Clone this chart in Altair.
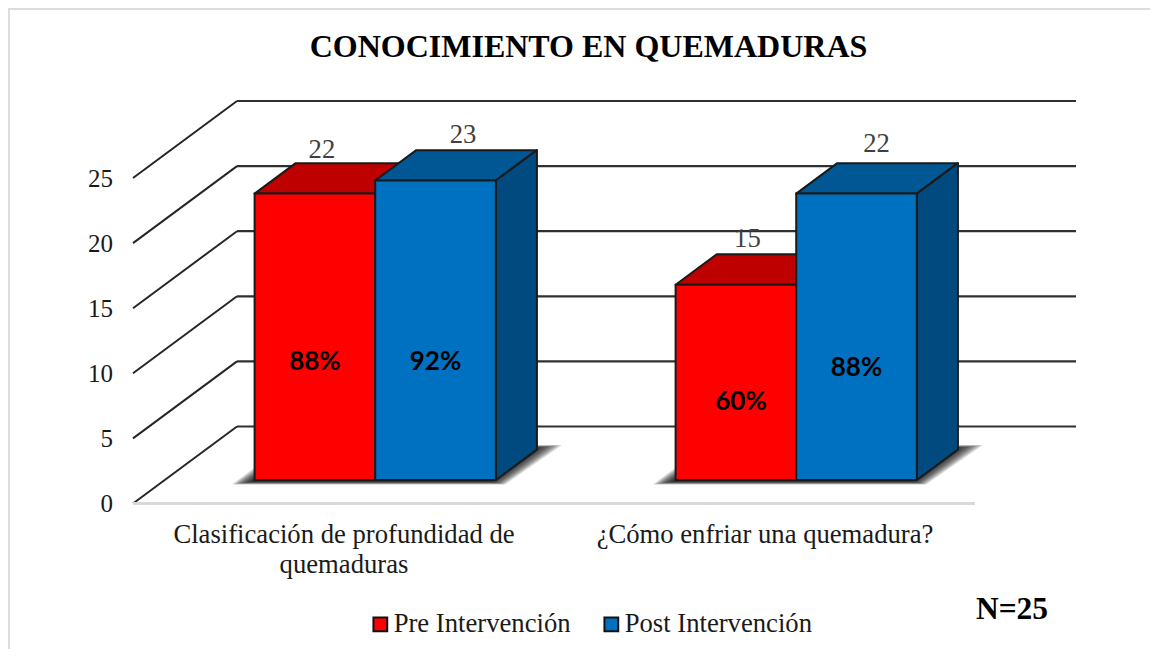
import altair as alt
import pandas as pd

categories = ["Clasificación de profundidad de quemaduras", "¿Cómo enfriar una quemadura?"]
series = ["Pre Intervención", "Post Intervención"]
pre_values = [22, 15]
post_values = [23, 22]
pre_pct = ["88%", "60%"]
post_pct = ["92%", "88%"]
y_ticks = [0, 5, 10, 15, 20, 25]

SERIF = "Liberation Serif"
COL_FRONT = {"Pre Intervención": "#FF0000", "Post Intervención": "#0070C0"}
COL_TOP = {"Pre Intervención": "#BE0000", "Post Intervención": "#005793"}
COL_SIDE = {"Pre Intervención": "#8A0000", "Post Intervención": "#004A80"}
EDGE = "#1a1a1a"

# projection: a point at depth d (0 front .. 1 back wall)
PX_X, PX_Y = 421.0, 13.02
DX = 104 / PX_X      # slots per full depth
DY = 77 / PX_Y       # value units per full depth
D0, D1 = 0.305, 0.70
BAR_W = 0.2865
W, H = 943, 402
X_MAX, Y_MAX = W / PX_X, H / PX_Y
xs = alt.Scale(domain=[0, X_MAX], nice=False, zero=False)
ys = alt.Scale(domain=[0, Y_MAX], nice=False, zero=False)

x_axis = alt.Axis(
    values=[0.5, 1.5], domain=False, ticks=False, grid=False, title=None,
    labelFont=SERIF, labelFontSize=26.67, labelColor="#1a1a1a", labelPadding=31, labelLimit=500,
    labelLineHeight=30, labelBaseline="middle", labelAlign="center",
    labelExpr="datum.value < 1 ? ['Clasificación de profundidad de', 'quemaduras'] : ['¿Cómo enfriar una quemadura?']",
)
y_axis = alt.Axis(
    values=y_ticks, domain=False, ticks=False, grid=False, title=None,
    labelFont=SERIF, labelFontSize=25, labelColor="#1a1a1a", labelPadding=20.5,
)
X = lambda f: alt.X(f, type="quantitative", scale=xs, axis=x_axis)
Y = lambda f: alt.Y(f, type="quantitative", scale=ys, axis=y_axis, stack=None)

# ---------- bar geometry rows ----------
fronts, tops, sides, pcts, vals = [], [], [], [], []
label_nudge_x = [0.0166, 0.0653, 0.0274, 0.0475]
label_nudge_y = [3.38, 3.53, 3.53, 3.84]
pct_nudge_x = [0, 0, 0.012, 0]
pct_anchor = [9.08, 9.08, 6.0, 8.62]
i = 0
for c in range(2):
    centre = c + 0.5
    for s, vlist, plist, left in ((series[0], pre_values, pre_pct, centre - BAR_W),
                                  (series[1], post_values, post_pct, centre)):
        v = vlist[c]
        right = left + BAR_W
        fronts.append(dict(s=s, x=left + D0 * DX, x2=right + D0 * DX, y=D0 * DY, y2=v + D0 * DY))
        for d in (D0, D1):
            tops.append(dict(s=s, g=i, x=left + d * DX, x2=right + d * DX, y=v + d * DY))
            sides.append(dict(s=s, g=i, x=right + d * DX, y=d * DY, y2=v + d * DY))
        mid = left + BAR_W / 2 + D0 * DX
        vals.append(dict(x=mid + label_nudge_x[i], y=v + D0 * DY + label_nudge_y[i], t=str(v)))
        pcts.append(dict(x=mid + pct_nudge_x[i], y=pct_anchor[i] + D0 * DY, t=plist[c]))
        i += 1

def bar_layers(name):
    top = alt.Chart(pd.DataFrame([r for r in tops if r["s"] == name])).mark_area(
        orient="horizontal", fill=COL_TOP[name], stroke=EDGE, strokeWidth=2, strokeJoin="round"
    ).encode(y=Y("y:Q"), x=X("x:Q"), x2="x2:Q", detail="g:N")
    side = alt.Chart(pd.DataFrame([r for r in sides if r["s"] == name])).mark_area(
        orient="vertical", fill=COL_SIDE[name], stroke=EDGE, strokeWidth=2, strokeJoin="round"
    ).encode(x=X("x:Q"), y=Y("y:Q"), y2="y2:Q", detail="g:N")
    return [top, side]

front_all = pd.DataFrame(fronts)
def front_layer(name, legend):
    return alt.Chart(front_all[front_all.s == name]).mark_rect(
        stroke=EDGE, strokeWidth=2
    ).encode(
        x=X("x:Q"), x2="x2:Q", y=Y("y:Q"), y2="y2:Q",
        color=alt.Color(
            "s:N",
            scale=alt.Scale(domain=series, range=[COL_FRONT[s] for s in series]),
            legend=legend,
        ),
    )

legend = alt.Legend(
    title=None, orient="none", legendX=234, legendY=509, direction="horizontal",
    symbolType="square", symbolSize=190, symbolStrokeColor="#111111", symbolStrokeWidth=2,
    labelFont=SERIF, labelFontSize=26.67, labelColor="#1a1a1a", labelOffset=0, labelLimit=400,
    columnPadding=27, symbolOpacity=1,
)

# ---------- walls ----------
wall_back = pd.DataFrame([dict(t=t, x=0 + 1 * DX, x2=X_MAX, y=t + DY) for t in y_ticks])
wall_diag = pd.DataFrame([dict(t=t, x=d * DX, y=t + d * DY) for t in y_ticks for d in (0, 1)])
back_lines = alt.Chart(wall_back).mark_rule(color="#303030", strokeWidth=2.2).encode(
    x=X("x:Q"), x2="x2:Q", y=Y("y:Q"))
diag_lines = alt.Chart(wall_diag).mark_line(color="#262626", strokeWidth=2).encode(
    x=X("x:Q"), y=Y("y:Q"), detail="t:N")

floor = alt.Chart(pd.DataFrame({"x": [0], "x2": [2], "y": [0]})).mark_rule(
    color="#d9d9d9", strokeWidth=3
).encode(x=X("x:Q"), x2="x2:Q", y=Y("y:Q"))

# ---------- soft floor shadows: stacked translucent parallelograms ----------
shadow_rows = []
steps = 10
for c in range(2):
    left = c + 0.5 - BAR_W
    right = c + 0.5 + BAR_W
    for k in range(steps):
        inset = k / (steps - 1)
        shadow_rows.append(dict(g=f"{c}-{k}",
                                x=left + 0.0216 + 0.045 * inset, x2=right + 0.097 - 0.03 * inset,
                                y=1.46 + 0.22 * inset))
        shadow_rows.append(dict(g=f"{c}-{k}",
                                x=left + 0.1475 + 0.045 * inset, x2=right + 0.2325 - 0.06 * inset,
                                y=4.49 - 0.22 * inset))
shadows = alt.Chart(pd.DataFrame(shadow_rows)).mark_area(
    orient="horizontal", fill="#000000", opacity=0.15
).encode(y=Y("y:Q"), x=X("x:Q"), x2="x2:Q", detail="g:N")

# ---------- labels ----------
value_text = alt.Chart(pd.DataFrame(vals)).mark_text(
    font=SERIF, fontSize=26.67, color="#404040", baseline="middle", align="center"
).encode(x=X("x:Q"), y=Y("y:Q"), text="t:N")
pct_text = alt.Chart(pd.DataFrame(pcts)).mark_text(
    font="Lato", fontWeight="bold", fontSize=26, color="#000000", baseline="middle", align="center"
).encode(x=X("x:Q"), y=Y("y:Q"), text="t:N")
n_text = alt.Chart(pd.DataFrame({"t": ["N=25"]})).mark_text(
    font=SERIF, fontWeight="bold", fontSize=31.5, color="#000000", baseline="middle", align="center"
).encode(x=alt.value(879), y=alt.value(508), text="t:N")

# ---------- panel frame (top and left only) ----------
frame_top = alt.Chart(pd.DataFrame({"a": [0]})).mark_rule(color="#dddddd", strokeWidth=2).encode(
    x=alt.value(-125), x2=alt.value(1017), y=alt.value(-92.5))
frame_left = alt.Chart(pd.DataFrame({"a": [0]})).mark_rule(color="#dddddd", strokeWidth=2).encode(
    y=alt.value(-92.5), y2=alt.value(548), x=alt.value(-124))

layers = [
    back_lines, diag_lines, floor, shadows,
    *bar_layers(series[0]), front_layer(series[0], legend),
    *bar_layers(series[1]), front_layer(series[1], legend),
    value_text, pct_text, n_text, frame_top, frame_left,
]

chart = alt.layer(*layers).resolve_scale(color="shared").properties(
    width=W, height=H,
    padding={"left": 125, "top": 93.5, "right": 74, "bottom": 145},
    autosize=alt.AutoSizeParams(type="none"),
    title=alt.TitleParams(
        "CONOCIMIENTO EN QUEMADURAS", font=SERIF, fontSize=32, fontWeight="bold",
        color="#000000", anchor="middle", dx=-16, offset=0, dy=56, frame="group",
    ),
    background="white",
).configure_view(stroke=None)

chart.save("out.html", embed_options={"renderer": "svg", "actions": False})
